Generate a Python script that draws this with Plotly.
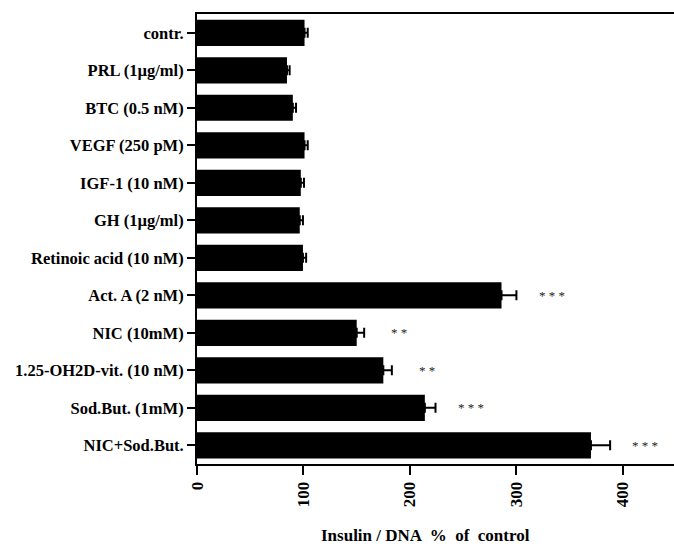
import plotly.graph_objects as go

categories = ["contr.", "PRL (1µg/ml)", "BTC (0.5 nM)", "VEGF (250 pM)", "IGF-1 (10 nM)",
              "GH (1µg/ml)", "Retinoic acid (10 nM)", "Act. A (2 nM)", "NIC (10mM)",
              "1.25-OH2D-vit. (10 nM)", "Sod.But. (1mM)", "NIC+Sod.But."]
values = [101, 84.5, 90, 101, 97.5, 96.5, 99.5, 286, 150, 175, 214, 370]
errors = [3, 2.5, 3, 3, 3, 3, 3, 14, 7, 8, 10, 18]
significance = ["", "", "", "", "", "", "", "***", "**", "**", "***", "***"]
tick_values = [0, 100, 200, 300, 400]

serif = "Liberation Serif"

fig = go.Figure()
fig.add_trace(go.Bar(
    x=values, y=categories, orientation="h",
    marker=dict(color="black", line=dict(width=0)),
    width=0.7,
    error_x=dict(type="data", array=errors, symmetric=False, arrayminus=[0]*len(errors),
                 color="black", thickness=2, width=5),
    showlegend=False,
))

for cat, v, e, s in zip(categories, values, errors, significance):
    if s:
        fig.add_annotation(x=v + e + 33, y=cat, text=" ".join(s), showarrow=False,
                           font=dict(family=serif, size=13, color="#222222"),
                           xanchor="center", yanchor="middle")

fig.add_annotation(x=0.478, y=0, xref="paper", yref="paper", yshift=-71,
                   text="<b>Insulin / DNA  %  of  control</b>", showarrow=False,
                   font=dict(family=serif, size=17, color="black"),
                   xanchor="center", yanchor="middle")

fig.update_layout(
    width=674, height=547,
    margin=dict(l=197, r=0, t=14, b=83),
    plot_bgcolor="white", paper_bgcolor="white",
    xaxis=dict(range=[0, 448], tickvals=tick_values,
               ticktext=["<b>%d</b>" % t for t in tick_values], tickangle=-90,
               showline=True, linecolor="black", linewidth=2, mirror=True,
               ticks="outside", ticklen=9, tickwidth=2, tickcolor="black",
               showgrid=False, zeroline=False,
               tickfont=dict(family=serif, size=17, color="black")),
    yaxis=dict(categoryorder="array", categoryarray=categories, autorange="reversed",
               showline=True, linecolor="black", linewidth=2,
               ticks="outside", ticklen=8, tickwidth=2, tickcolor="black",
               showgrid=False, zeroline=False,
               tickvals=categories, ticktext=["<b>%s</b>" % c for c in categories],
               tickfont=dict(family=serif, size=16.5, color="black")),
    font=dict(family=serif, color="black"),
)

fig.write_html("out.html", config={"displayModeBar": False},
               post_script="document.body.style.margin='0';document.body.style.overflow='hidden';")
